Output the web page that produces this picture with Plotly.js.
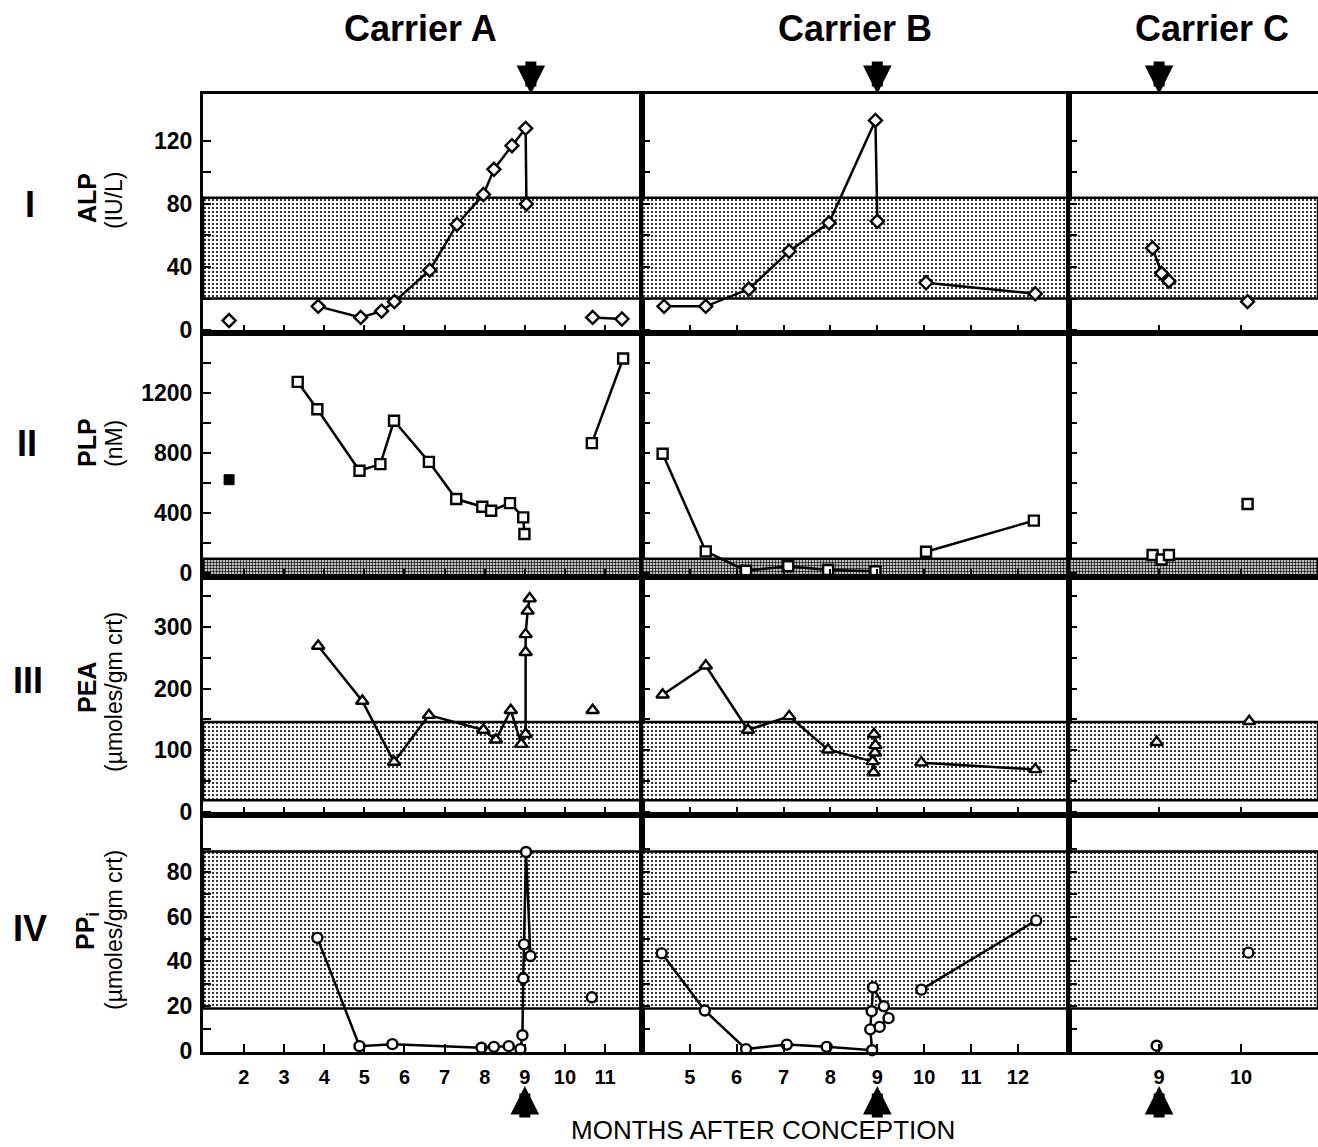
<!DOCTYPE html>
<html><head><meta charset="utf-8">
<script src="https://cdn.plot.ly/plotly-3.0.1.min.js"></script>
<style>html,body{margin:0;padding:0;background:#fff}</style>
</head><body><div id="chart" style="width:1318px;height:1147px"></div>
<script>
// ---------------- DATA ----------------
const carriers = ['Carrier A', 'Carrier B', 'Carrier C'];
const rowNumerals = ['I', 'II', 'III', 'IV'];

// Row I : ALP (IU/L)
const alpA_month = [1.63, null, 3.85, 4.91, 5.43, 5.75, 6.63, 7.31, 7.97, 8.23, 8.68, 9.02, 9.04, null, 10.69, 11.42];
const alpA_value = [6, null, 15, 8, 12, 18, 38, 67, 86, 102, 117, 128, 80, null, 8, 7];
const alpB_month = [4.45, 5.34, 6.26, 7.12, 7.97, 8.96, 9.0, null, 10.04, 12.37];
const alpB_value = [15, 15, 26, 50, 68, 133, 69, null, 30, 23];
const alpC_month = [8.92, 9.03, 9.12, null, 10.08];
const alpC_value = [52, 36, 31, null, 18];

// Row II : PLP (nM)
const plpA_month = [3.34, 3.83, 4.88, 5.40, 5.74, 6.61, 7.29, 7.94, 8.16, 8.63, 8.96, 8.99, null, 10.67, 11.45];
const plpA_value = [1274, 1092, 682, 726, 1015, 741, 493, 442, 415, 466, 371, 260, null, 866, 1430];
const plpA_filled_month = [1.63];
const plpA_filled_value = [622];
const plpB_month = [4.42, 5.34, 6.2, 7.1, 7.95, 8.96, null, 10.04, 12.34];
const plpB_value = [795, 144, 15, 45, 20, 12, null, 142, 349];
const plpC_month = [8.92, null, 9.03, null, 9.12, null, 10.08];
const plpC_value = [120, null, 90, null, 120, null, 460];

// Row III : PEA (umoles/gm crt)
const peaA_month = [3.85, 4.95, 5.74, 6.61, 7.97, 8.28, 8.65, 8.91, 9.02, 9.02, 9.02, 9.07, 9.12, null, 10.69];
const peaA_value = [269, 180, 81, 157, 133, 117, 165, 110, 126, 259, 288, 326, 346, null, 165];
const peaB_month = [4.42, 5.34, 6.24, 7.12, 7.95, 8.9, 8.92, 8.95, 8.96, 8.93, null, 9.94, 12.37];
const peaB_value = [190, 237, 133, 155, 101, 82, 64, 96, 108, 126, null, 80, 69];
const peaC_month = [8.97, null, 10.1];
const peaC_value = [113, null, 147];

// Row IV : PPi (umoles/gm crt)
const ppiA_month = [3.83, 4.88, 5.70, 7.92, 8.23, 8.6, 8.89, 8.94, 8.96, 8.98, 9.03, 9.14, null, 10.67];
const ppiA_value = [50.5, 2.2, 3.1, 1.5, 1.9, 2.2, 0.9, 7.1, 32.4, 47.6, 88.8, 42.4, null, 24];
const ppiB_month = [4.4, 5.32, 6.2, 7.07, 7.92, 8.89, 8.85, 8.88, 8.91, 9.14, 9.24, 9.05, null, 9.94, 12.39];
const ppiB_value = [43.6, 18.1, 0.9, 2.9, 1.9, 0.4, 9.7, 17.8, 28.4, 20, 14.7, 10.8, null, 27.4, 58.3];
const ppiC_month = [8.97, null, 10.09];
const ppiC_value = [2.4, null, 43.9];

// Normal ranges (shaded bands)
const normALP = [20, 84];
const normPLP = [-27, 95];
const normPEA = [19, 146];
const normPPi = [19, 89];

// Delivery (arrows)
const deliveryTop = [9.15, 9.0, 9.0];
const deliveryBottom = [9.0, 9.0, 9.0];

// Tick values
const xTicksA = [2, 3, 4, 5, 6, 7, 8, 9, 10, 11];
const xTicksB = [5, 6, 7, 8, 9, 10, 11, 12];
const xTicksC = [9, 10];
const yTicksALP = [0, 20, 40, 60, 80, 100, 120];
const yLabelsALP = ['0', '', '40', '', '80', '', '120'];
const yTicksPLP = [0, 200, 400, 600, 800, 1000, 1200, 1400];
const yLabelsPLP = ['0', '', '400', '', '800', '', '1200', ''];
const yTicksPEA = [0, 50, 100, 150, 200, 250, 300, 350];
const yLabelsPEA = ['0', '', '100', '', '200', '', '300', ''];
const yTicksPPi = [0, 10, 20, 30, 40, 50, 60, 70, 80, 90];
const yLabelsPPi = ['0', '', '20', '', '40', '', '60', '', '80', ''];

// ---------------- LAYOUT CONFIG ----------------
const W = 1318, H = 1147, ML = 203, MR = 0, MT = 94, MB = 95;
const PW = W - ML - MR, PH = H - MT - MB;
const px2x = p => (p - ML) / PW;
const py2y = p => (H - MB - p) / PH;

const colDomains = [[0, px2x(642)], [px2x(642), px2x(1069)], [px2x(1069), 1]];
const colRanges = [[0.98, 11.92], [3.98, 13.09], [7.9, 10.94]];
const colTicks = [xTicksA, xTicksB, xTicksC];
const rowDomains = [[py2y(333), 1], [py2y(577), py2y(333)], [py2y(815), py2y(577)], [0, py2y(815)]];
const rowRanges = [[-1.9, 149.8], [-26.7, 1600], [-4.9, 381], [-0.4, 105.3]];
const rowTicks = [[yTicksALP, yLabelsALP], [yTicksPLP, yLabelsPLP], [yTicksPEA, yLabelsPEA], [yTicksPPi, yLabelsPPi]];
const rowNorm = [normALP, normPLP, normPEA, normPPi];
const rowSymbols = ['diamond', 'square', 'triangle-up', 'circle'];
const rowSizes = [10, 10, 11, 10];

const panelData = [
  [[alpA_month, alpA_value], [alpB_month, alpB_value], [alpC_month, alpC_value]],
  [[plpA_month, plpA_value], [plpB_month, plpB_value], [plpC_month, plpC_value]],
  [[peaA_month, peaA_value], [peaB_month, peaB_value], [peaC_month, peaC_value]],
  [[ppiA_month, ppiA_value], [ppiB_month, ppiB_value], [ppiC_month, ppiC_value]]
];

const FONT = 'Liberation Sans, Arial, Helvetica, sans-serif';
const traces = [];
const layout = {
  width: W, height: H,
  margin: {l: ML, r: MR, t: MT, b: MB, pad: 0},
  paper_bgcolor: '#fff', plot_bgcolor: 'rgba(0,0,0,0)',
  showlegend: false,
  font: {family: FONT, color: '#000'},
  annotations: []
};

function ax(idx) { return idx === 1 ? '' : String(idx); }

for (let r = 0; r < 4; r++) {
  for (let c = 0; c < 3; c++) {
    const idx = r * 3 + c + 1;
    const xa = 'x' + ax(idx), ya = 'y' + ax(idx);
    layout['xaxis' + ax(idx)] = {
      domain: colDomains[c], range: colRanges[c], anchor: ya,
      tickmode: 'array', tickvals: colTicks[c], ticktext: colTicks[c].map(String),
      ticks: 'inside', ticklen: 8, tickwidth: 2, tickcolor: '#000',
      showticklabels: r === 3, ticklabelstandoff: 5,
      tickfont: {family: FONT, size: 20, color: '#000', weight: 'bold'},
      showline: true, linewidth: 3, linecolor: '#000', mirror: true,
      showgrid: false, zeroline: false, fixedrange: true
    };
    layout['yaxis' + ax(idx)] = {
      domain: rowDomains[r], range: rowRanges[r], anchor: xa,
      tickmode: 'array', tickvals: rowTicks[r][0], ticktext: rowTicks[r][1],
      ticks: 'inside', ticklen: 8, tickwidth: 2, tickcolor: '#000',
      showticklabels: c === 0, ticklabelstandoff: 3,
      tickfont: {family: FONT, size: 23, color: '#000', weight: 'bold'},
      showline: true, linewidth: 3, linecolor: '#000', mirror: c !== 2,
      showgrid: false, zeroline: false, fixedrange: true
    };
    // normal range band
    const [x0, x1] = colRanges[c];
    const [lo, hi] = rowNorm[r];
    traces.push({
      type: 'scatter', mode: 'lines', xaxis: xa, yaxis: ya,
      x: [x0, x1, x1, x0, x0], y: [lo, lo, hi, hi, lo],
      fill: 'toself', fillcolor: '#ffffff',
      fillpattern: {shape: '.', fgcolor: '#000', bgcolor: '#fff', size: r === 1 ? 3 : 4, solidity: r === 1 ? 0.5 : 0.22},
      line: {color: '#000', width: 2.5}, hoverinfo: 'skip'
    });
    const [mx, my] = panelData[r][c];
    traces.push({
      type: 'scatter', mode: 'lines+markers', xaxis: xa, yaxis: ya,
      x: mx, y: my, connectgaps: false, cliponaxis: false,
      line: {color: '#000', width: 2.5},
      marker: {symbol: rowSymbols[r], size: rowSizes[r], color: '#fff', line: {color: '#000', width: 2.4}}
    });
  }
}
// filled square (Carrier A, PLP)
traces.push({
  type: 'scatter', mode: 'markers', xaxis: 'x4', yaxis: 'y4',
  x: plpA_filled_month, y: plpA_filled_value,
  marker: {symbol: 'square', size: 10, color: '#000', line: {color: '#000', width: 1}}
});

// column titles
const titleX = [420, 855, 1212];
carriers.forEach((t, c) => layout.annotations.push({
  text: t, xref: 'paper', yref: 'paper', x: px2x(titleX[c]), y: py2y(28.5),
  xanchor: 'center', yanchor: 'middle', showarrow: false,
  font: {family: FONT, size: 36, color: '#000', weight: 'bold'}
}));
// arrows
for (let c = 0; c < 3; c++) {
  layout.annotations.push({
    text: '', xref: 'x' + ax(c + 1), yref: 'paper', x: deliveryTop[c], y: py2y(94),
    showarrow: true, ax: 0, ay: -34, arrowhead: 2, arrowwidth: 11, arrowsize: 0.52, arrowcolor: '#000', standoff: 0
  });
  layout.annotations.push({
    text: '', xref: 'x' + ax(c + 10), yref: 'paper', x: deliveryBottom[c], y: py2y(1086),
    showarrow: true, ax: 0, ay: 33, arrowhead: 2, arrowwidth: 11, arrowsize: 0.52, arrowcolor: '#000', standoff: 0
  });
}
// row numerals
const numY = [205, 443, 680, 928];
const numX = [30, 27, 28, 30];
rowNumerals.forEach((t, r) => layout.annotations.push({
  text: t, xref: 'paper', yref: 'paper', x: px2x(numX[r]), y: py2y(numY[r]),
  xanchor: 'center', yanchor: 'middle', showarrow: false,
  font: {family: FONT, size: 36, color: '#000', weight: 'bold'}
}));
// y-axis titles (rotated)
const yt1 = ['ALP', 'PLP', 'PEA', 'PP<sub>i</sub>'];
const yt2 = ['(IU/L)', '(nM)', '(µmoles/gm crt)', '(µmoles/gm crt)'];
const ytY1 = [198, 443, 688, 931];
const ytY2 = [200, 444, 692, 930];
for (let r = 0; r < 4; r++) {
  layout.annotations.push({
    text: yt1[r], xref: 'paper', yref: 'paper', x: px2x(87), y: py2y(ytY1[r]),
    xanchor: 'center', yanchor: 'middle', showarrow: false, textangle: -90,
    font: {family: FONT, size: 25, color: '#000', weight: 'bold'}
  });
  layout.annotations.push({
    text: yt2[r], xref: 'paper', yref: 'paper', x: px2x(114), y: py2y(ytY2[r]),
    xanchor: 'center', yanchor: 'middle', showarrow: false, textangle: -90,
    font: {family: FONT, size: 23, color: '#000'}
  });
}
// x-axis title
layout.annotations.push({
  text: 'MONTHS AFTER CONCEPTION', xref: 'paper', yref: 'paper', x: px2x(763), y: py2y(1130),
  xanchor: 'center', yanchor: 'middle', showarrow: false,
  font: {family: FONT, size: 26, color: '#000'}
});

Plotly.newPlot('chart', traces, layout, {staticPlot: true, displayModeBar: false});
</script>
</body></html>
